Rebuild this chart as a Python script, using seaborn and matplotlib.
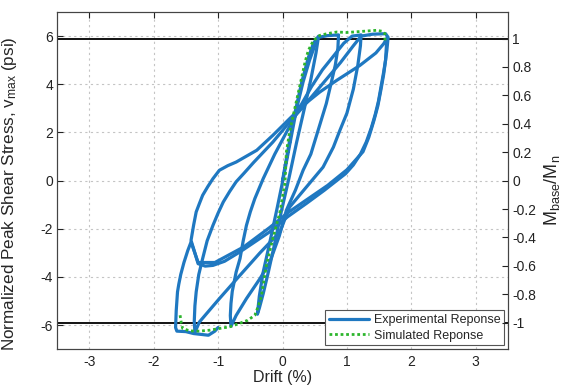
import numpy as np
import matplotlib
matplotlib.use("Agg")
import matplotlib.pyplot as plt
import seaborn as sns
from matplotlib.lines import Line2D

# ------------------------------------------------------------ #
# data (drift %, stress psi-norm)
# ------------------------------------------------------------ #

# experimental response, one list per loading cycle
cyc1_drift = [0.0, 0.1, 0.2, 0.3, 0.4, 0.48, 0.56, 0.52, 0.44, 0.34, 0.22, 0.1, -0.02, -0.12,
              -0.22, -0.3, -0.36, -0.39, -0.36, -0.3, -0.2, -0.08, 0.02, 0.12]
cyc1_stress = [0.0, 1.5, 2.9, 4.1, 5.1, 5.7, 6.0, 5.3, 4.2, 3.0, 1.6, 0.1, -1.3, -2.6,
               -3.8, -4.7, -5.3, -5.55, -4.8, -3.8, -2.6, -1.1, 0.2, 1.6]

cyc2_drift = [0.12, 0.22, 0.32, 0.42, 0.5, 0.56, 0.7, 0.87, 0.86, 0.82, 0.76, 0.68, 0.6, 0.52,
              0.44, 0.32, 0.2, 0.06, -0.05, -0.2, -0.35, -0.56, -0.72, -0.8, -0.81, -0.8,
              -0.78, -0.75, -0.72, -0.66, -0.61, -0.56, -0.5, -0.43, -0.3, -0.12, 0.06, 0.2, 0.28]
cyc2_stress = [1.6, 3.0, 4.1, 5.0, 5.6, 5.95, 6.02, 6.05, 5.5, 4.8, 4.1, 3.2, 2.5, 1.8,
               1.1, 0.43, -0.4, -1.23, -2.3, -3.4, -4.07, -4.9, -5.6, -6.05, -5.6, -5.1,
               -4.6, -4.2, -3.8, -3.24, -2.5, -1.86, -1.3, -0.75, 0.08, 1.1, 2.0, 2.7, 3.1]

cyc3_drift = [0.28, 0.45, 0.62, 0.8, 0.95, 1.08, 1.22, 1.21, 1.17, 1.1, 1.0, 0.89, 0.79, 0.63,
              0.37, 0.11, -0.04, -0.35, -0.66, -0.98, -1.29, -1.36, -1.37, -1.36, -1.34,
              -1.3, -1.24, -1.17, -1.08, -1.0, -0.92, -0.82, -0.72, -0.6, -0.45, -0.15, 0.1, 0.3]
cyc3_stress = [3.1, 3.9, 4.6, 5.2, 5.7, 6.0, 6.05, 5.6, 4.8, 3.8, 2.8, 2.08, 1.39, 0.56,
               -0.27, -1.1, -2.13, -3.0, -3.93, -4.9, -5.87, -6.3, -5.85, -5.2, -4.62,
               -3.9, -3.24, -2.5, -1.86, -1.35, -0.89, -0.45, -0.05, 0.3, 0.75, 1.6, 2.4, 3.0]

cyc4_drift = [0.3, 0.6, 0.9, 1.1, 1.22, 1.4, 1.6, 1.64, 1.62, 1.6, 1.57, 1.53, 1.49, 1.44,
              1.38, 1.3, 1.21, 1.1, 0.98, 0.65, 0.37, 0.08, -0.2, -0.66, -0.9, -1.08, -1.2,
              -1.31, -1.42, -1.38, -1.34, -1.29, -1.24, -1.16, -1.08, -0.98, -0.85, -0.72,
              -0.4, -0.15, 0.11, 0.32, 0.58, 0.84, 1.2, 1.45, 1.57, 1.62]
cyc4_stress = [3.0, 3.95, 4.9, 5.6, 6.0, 6.08, 6.1, 5.95, 5.4, 5.0, 4.5, 3.9, 3.3, 2.75,
               2.2, 1.6, 1.1, 0.65, 0.29, -0.4, -0.95, -1.5, -2.13, -2.96, -3.35, -3.52, -3.55,
               -3.45, -2.48, -1.85, -1.3, -0.95, -0.61, -0.25, 0.08, 0.43, 0.62, 0.77,
               1.26, 1.88, 2.57, 3.12, 3.68, 4.16, 4.78, 5.3, 5.68, 5.9]

cyc5_drift = [1.62, 1.6, 1.57, 1.53, 1.48, 1.42, 1.34, 1.25, 1.0, 0.7, 0.4, 0.1, -0.2, -0.6,
              -1.05, -1.31, -1.42, -1.47, -1.53, -1.58, -1.61, -1.63, -1.65, -1.66, -1.64,
              -1.5, -1.38, -1.15, -1.05, -1.0]
cyc5_stress = [5.9, 5.0, 4.4, 3.8, 3.1, 2.5, 1.8, 1.2, 0.45, -0.2, -0.75, -1.3, -1.95, -2.75,
               -3.4, -3.4, -2.55, -2.9, -3.4, -3.9, -4.3, -4.62, -5.4, -6.1, -6.25,
               -6.27, -6.35, -6.42, -6.25, -6.1]

# simulated response
sim_drift = [-1.59, -1.57, -1.55, -1.44, -1.29, -1.13, -0.98, -0.82, -0.67, -0.54, -0.43,
             -0.38, -0.33, -0.25, -0.15, -0.04, 0.04, 0.06, 0.11, 0.19, 0.27, 0.35, 0.40,
             0.48, 0.58, 0.69, 0.84, 1.0, 1.2, 1.35, 1.46, 1.55, 1.59, 1.59]
sim_stress = [-5.59, -5.93, -6.14, -6.24, -6.25, -6.21, -6.14, -6.07, -5.93, -5.80, -5.59,
              -5.24, -4.83, -3.52, -2.41, -1.30, -0.06, 1.19, 2.02, 2.99, 3.95, 4.92, 5.40,
              5.82, 6.03, 6.10, 6.17, 6.15, 6.19, 6.22, 6.24, 6.20, 6.10, 5.82]

capacity = 5.9   # stress at M_base / M_n = 1
moment_ticks = [-1, -0.8, -0.6, -0.4, -0.2, 0, 0.2, 0.4, 0.6, 0.8, 1]
moment_labels = ['-1', '-0.8', '-0.6', '-0.4', '-0.2', '0', '0.2', '0.4', '0.6', '0.8', '1']

# ------------------------------------------------------------ #
# plot
# ------------------------------------------------------------ #

sns.set_style("white")
plt.rcParams['font.family'] = ['Liberation Sans', 'DejaVu Sans']
plt.rcParams['mathtext.default'] = 'regular'
plt.rcParams['axes.unicode_minus'] = False

blue = '#1f78c1'
green = '#2db52d'

fig = plt.figure(figsize=(5.65, 3.88), dpi=100)
ax = fig.add_axes([0.101, 0.100, 0.798, 0.869])

cycles = [(cyc1_drift, cyc1_stress), (cyc2_drift, cyc2_stress), (cyc3_drift, cyc3_stress),
          (cyc4_drift, cyc4_stress), (cyc5_drift, cyc5_stress)]
for dx, sy in cycles:
    sns.lineplot(x=dx, y=sy, sort=False, estimator=None, color=blue, lw=2.3, ax=ax)

sns.lineplot(x=sim_drift, y=sim_stress, sort=False, estimator=None, color=green,
             lw=2.0, linestyle=(0, (1, 1)), ax=ax)

ax.axhline(capacity, color='black', lw=1.3, zorder=1)
ax.axhline(-capacity, color='black', lw=1.3, zorder=1)

ax.set_xlim(-3.5, 3.5)
ax.set_ylim(-7, 7)
ax.set_xticks(range(-3, 4))
ax.set_yticks(range(-6, 7, 2))
ax.grid(True, ls=(0, (2, 3)), color='#c4c4c4', lw=0.8)
ax.tick_params(direction='in', top=True, length=4, labelsize=10, colors='#222222')
ax.tick_params(axis='x', pad=4)
ax.tick_params(axis='y', pad=3)
for s in ax.spines.values():
    s.set_color('#444444')
    s.set_linewidth(0.8)
ax.set_xlabel('Drift (%)', fontsize=11.5, labelpad=1)
ax.set_ylabel('Normalized Peak Shear Stress, v$_{max}$ (psi)', fontsize=12.3)
ax.yaxis.set_label_coords(-0.085, 0.46)

ax2 = ax.twinx()
ax2.set_ylim(-7 / capacity, 7 / capacity)
ax2.set_yticks(moment_ticks)
ax2.set_yticklabels(moment_labels)
ax2.tick_params(direction='in', length=4, labelsize=10, pad=3, colors='#222222')
for s in ax2.spines.values():
    s.set_color('#444444')
    s.set_linewidth(0.8)
ax2.set_ylabel('M$_{base}$/M$_n$', fontsize=13)
ax2.yaxis.set_label_coords(1.076, 0.47)

handles = [Line2D([], [], color=blue, lw=2.3),
           Line2D([], [], color=green, lw=2.0, linestyle=(0, (1, 1)))]
leg = ax.legend(handles, ['Experimental Reponse', 'Simulated Reponse'], loc='lower right',
                fontsize=9, handlelength=3.2, frameon=True, fancybox=False,
                borderaxespad=0.3, labelspacing=0.3, borderpad=0.3, handletextpad=0.4)
leg.get_frame().set_edgecolor('#555555')
leg.get_frame().set_linewidth(0.8)
leg.get_frame().set_alpha(1)

fig.savefig('out.png', dpi=100)
